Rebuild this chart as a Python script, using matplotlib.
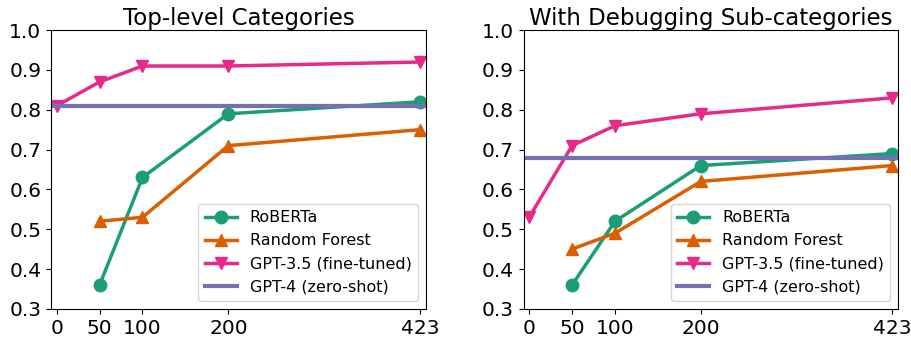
import numpy as np
import matplotlib.pyplot as plt

# data
sizes = [0, 50, 100, 200, 423]
titles = ["Top-level Categories", "With Debugging Sub-categories"]

roberta_top = [0.36, 0.63, 0.79, 0.82]
rf_top = [0.52, 0.53, 0.71, 0.75]
gpt35_top = [0.81, 0.87, 0.91, 0.91, 0.92]
gpt4_top = 0.81

roberta_sub = [0.36, 0.52, 0.66, 0.69]
rf_sub = [0.45, 0.49, 0.62, 0.66]
gpt35_sub = [0.53, 0.71, 0.76, 0.79, 0.83]
gpt4_sub = 0.68

colors = {'roberta': '#1b9e77', 'rf': '#d95f02', 'gpt35': '#e7298a', 'gpt4': '#7570b3'}

fig, axes = plt.subplots(1, 2, figsize=(9.12, 3.39), dpi=100)

panels = [
    (roberta_top, rf_top, gpt35_top, gpt4_top),
    (roberta_sub, rf_sub, gpt35_sub, gpt4_sub),
]

for ax, title, (rob, rf, g35, g4) in zip(axes, titles, panels):
    ax.plot(sizes[1:], rob, marker='o', color=colors['roberta'], lw=2.5, ms=9, label='RoBERTa')
    ax.plot(sizes[1:], rf, marker='^', color=colors['rf'], lw=2.5, ms=9, label='Random Forest')
    ax.plot(sizes, g35, marker='v', color=colors['gpt35'], lw=2.5, ms=9, label='GPT-3.5 (fine-tuned)')
    ax.axhline(g4, color=colors['gpt4'], lw=3, label='GPT-4 (zero-shot)')
    ax.set_xlim(-6.5, 430)
    ax.set_ylim(0.3, 1.0)
    ax.set_xticks(sizes)
    ax.set_yticks(np.arange(0.3, 1.01, 0.1))
    ax.set_yticklabels([f"{v:.1f}" for v in np.arange(0.3, 1.01, 0.1)])
    ax.tick_params(labelsize=14.5)
    ax.set_title(title, fontsize=16.5, pad=3)
    ax.legend(loc='lower right', fontsize=11.5)

plt.subplots_adjust(left=0.056, right=0.985, bottom=0.089, top=0.911, wspace=0.261)
plt.savefig("out.png", dpi=100)
